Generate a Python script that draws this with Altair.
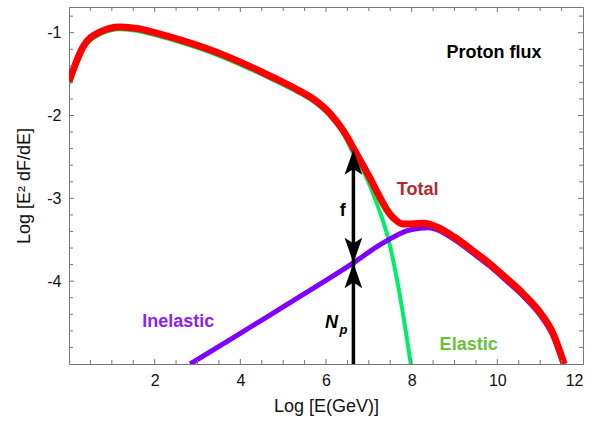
import altair as alt
import pandas as pd

# ---- data ----
total_x = [0.0, 0.33, 0.73, 1.19, 1.6, 2.0, 2.67, 3.46, 4.23, 4.8, 5.3, 5.7, 6.1, 6.4, 6.7, 7.0, 7.2, 7.4, 7.6, 7.8, 8.0, 8.3, 8.6, 9.0, 9.4, 9.8, 10.2, 10.6, 11.0, 11.3, 11.56]
total_y = [-1.59, -1.17, -0.99, -0.93, -0.95, -1.0, -1.10, -1.24, -1.41, -1.55, -1.68, -1.80, -1.98, -2.18, -2.45, -2.73, -2.93, -3.12, -3.25, -3.31, -3.31, -3.30, -3.35, -3.47, -3.62, -3.78, -3.96, -4.15, -4.38, -4.63, -5.0]

elastic_x = [0.0, 0.33, 0.73, 1.19, 1.6, 2.0, 2.67, 3.46, 4.23, 4.8, 5.3, 5.7, 6.1, 6.4, 6.6, 6.9, 7.2, 7.46, 7.7, 7.98]
elastic_y = [-1.62, -1.20, -1.02, -0.96, -0.98, -1.03, -1.13, -1.27, -1.44, -1.58, -1.71, -1.83, -2.01, -2.21, -2.42, -2.70, -3.08, -3.50, -4.10, -5.0]

inelastic_x = [2.83, 4.0, 5.0, 6.0, 6.64, 7.2, 7.6, 7.9, 8.2, 8.4, 8.6, 9.0, 9.4, 9.8, 10.2, 10.6, 11.0, 11.3, 11.54]
inelastic_y = [-5.0, -4.63, -4.31, -3.99, -3.78, -3.58, -3.46, -3.39, -3.36, -3.355, -3.38, -3.50, -3.65, -3.81, -3.99, -4.18, -4.41, -4.66, -5.0]

arrow_x = 6.64
arrow_top = -2.41
arrow_mid = -3.78
arrow_bottom = -5.0

x_tick_labels = [2, 4, 6, 8, 10, 12]
y_tick_labels = [-1, -2, -3, -4]
x_major_ticks = [2, 4, 6, 8, 10]
x_minor_ticks = [0.5, 1.0, 1.5, 2.5, 3.0, 3.5, 4.5, 5.0, 5.5, 6.5, 7.0, 7.5, 8.5, 9.0, 9.5, 10.5, 11.0, 11.5]
y_major_ticks = [-1, -2, -3, -4]
y_minor_ticks = [-0.8, -1.2, -1.4, -1.6, -1.8, -2.2, -2.4, -2.6, -2.8, -3.2, -3.4, -3.6, -3.8, -4.2, -4.4, -4.6, -4.8]

# annotation labels (data coordinates)
label_text = ["Proton flux", "Total", "f", "Inelastic", "Elastic"]
label_x = [9.92, 8.14, 6.39, 2.55, 9.33]
label_y = [-1.25, -2.90, -3.15, -4.49, -4.77]
label_color = ["#000000", "#b02a2e", "#000000", "#8a1ff0", "#66c23a"]

W, H = 514, 357
XD = [0, 12]
YD = [-5, -0.69]

xs = alt.Scale(domain=XD, nice=False, zero=False)
ys = alt.Scale(domain=YD, nice=False, zero=False)

x_axis = alt.Axis(values=x_tick_labels, ticks=False, domain=False, grid=False,
                  labelExpr="'' + datum.value",
                  labelFontSize=16, labelColor="#111", labelPadding=8,
                  title="Log [E(GeV)]", titleFontSize=18, titleFontWeight="normal",
                  titleColor="#111", titlePadding=9)
y_axis = alt.Axis(values=y_tick_labels, ticks=False, domain=False, grid=False,
                  labelExpr="'' + datum.value",
                  labelFontSize=16, labelColor="#111", labelPadding=8,
                  title="Log [E² dF/dE]", titleFontSize=18, titleFontWeight="normal",
                  titleColor="#111", titlePadding=13)

tot = pd.DataFrame({"x": total_x, "y": total_y})
ela = pd.DataFrame({"x": elastic_x, "y": elastic_y})
ine = pd.DataFrame({"x": inelastic_x, "y": inelastic_y})

X = lambda: alt.X("x:Q", scale=xs)
Y = lambda: alt.Y("y:Q", scale=ys)

def line(df, color, width, main=False):
    return alt.Chart(df).mark_line(color=color, strokeWidth=width, clip=True,
                                   interpolate="monotone", strokeCap="butt").encode(
        x=alt.X("x:Q", scale=xs, axis=x_axis) if main else X(),
        y=alt.Y("y:Q", scale=ys, axis=y_axis) if main else Y(),
    )

green = line(ela, "#00ee66", 4, main=True)
purple = line(ine, "#7f00ff", 5)
red = line(tot, "#ff0000", 7)

# ticks (inward) drawn with the x / y scales
def xticks(vals, length):
    df = pd.DataFrame({"x": vals})
    b = alt.Chart(df).mark_rule(color="#777", strokeWidth=1).encode(
        x=X(), y=alt.value(H), y2=alt.value(H - length))
    t = alt.Chart(df).mark_rule(color="#777", strokeWidth=1).encode(
        x=X(), y=alt.value(0), y2=alt.value(length))
    return b + t

def yticks(vals, length):
    df = pd.DataFrame({"y": vals})
    l = alt.Chart(df).mark_rule(color="#777", strokeWidth=1).encode(
        y=Y(), x=alt.value(0), x2=alt.value(length))
    r = alt.Chart(df).mark_rule(color="#777", strokeWidth=1).encode(
        y=Y(), x=alt.value(W), x2=alt.value(W - length))
    return l + r

ticks = xticks(x_major_ticks, 5) + xticks(x_minor_ticks, 4) + yticks(y_major_ticks, 5) + yticks(y_minor_ticks, 4)

# arrows
shaft_df = pd.DataFrame({"x": [arrow_x], "y": [arrow_bottom], "y2": [arrow_top]})
shaft = alt.Chart(shaft_df).mark_rule(color="black", strokeWidth=3.5, y2Offset=8).encode(
    x=X(), y=Y(), y2="y2:Q")

up_df = pd.DataFrame({"x": [arrow_x, arrow_x], "y": [arrow_top, arrow_mid]})
down_df = pd.DataFrame({"x": [arrow_x], "y": [arrow_mid]})
up_path = "M0,0 L0.7,2 L0,1.55 L-0.7,2 Z"
down_path = "M0,0 L0.7,-2 L0,-1.55 L-0.7,-2 Z"
up_heads = alt.Chart(up_df).mark_point(shape=up_path, filled=True, size=640, color="black",
                                       opacity=1, strokeWidth=0).encode(x=X(), y=Y())
down_heads = alt.Chart(down_df).mark_point(shape=down_path, filled=True, size=640, color="black",
                                           opacity=1, strokeWidth=0).encode(x=X(), y=Y())

# labels
lab_df = pd.DataFrame({"t": label_text, "x": label_x, "y": label_y, "c": label_color})
labels = alt.Chart(lab_df).mark_text(fontSize=18, fontWeight="bold", align="center",
                                     baseline="middle").encode(
    x=X(), y=Y(), text="t:N", color=alt.Color("c:N", scale=None))

np_df = pd.DataFrame({"x": [6.22], "y": [-4.53]})
n_text = alt.Chart(np_df).mark_text(text="N", fontSize=18, fontWeight="bold", fontStyle="italic",
                                    align="center", baseline="middle", color="black", dx=-4, dy=-2).encode(
    x=X(), y=Y())
p_text = alt.Chart(np_df).mark_text(text="p", fontSize=13, fontWeight="bold", fontStyle="italic",
                                    align="center", baseline="middle", color="black", dx=8, dy=5).encode(
    x=X(), y=Y())

chart = alt.layer(
    green, purple, red, ticks, shaft, up_heads, down_heads, labels, n_text, p_text
).properties(
    width=W, height=H,
    autosize=alt.AutoSizeParams(type="none"),
    padding={"left": 69, "top": 7, "right": 11, "bottom": 59},
).configure(
    font="Liberation Sans",
).configure_view(
    stroke="#777", strokeWidth=1
)

chart.save("out.html", embed_options={"renderer": "svg", "actions": False})
